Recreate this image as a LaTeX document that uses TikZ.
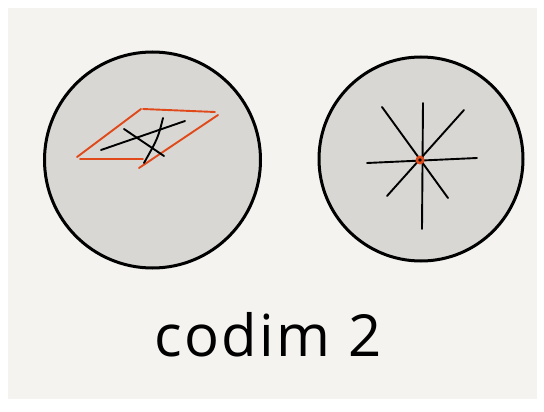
\documentclass[tikz,border=0pt]{standalone}
\usepackage{fontspec}
\setmainfont{Open Sans}
\definecolor{paper}{HTML}{F4F3F0}
\definecolor{disc}{HTML}{D8D7D4}
\definecolor{ora}{HTML}{E04A1A}
\begin{document}
\begin{tikzpicture}[x=1pt,y=-1pt,
  discstyle/.style={draw=black,line width=3pt,fill=disc},
  ink/.style={draw=black,line width=1.9pt,line cap=round},
  redink/.style={draw=ora,line width=1.9pt,line cap=round}]
\useasboundingbox (0,0) rectangle (544,412);
\fill[white] (0,0) rectangle (544,412);
\fill[paper] (8,8) rectangle (537,399);
% left disc
\node[discstyle,circle,minimum size=216pt,inner sep=0pt] (L) at (152.5,160) {};
\coordinate (p1) at (141,109);
\coordinate (p2) at (215,112);
\coordinate (p3) at (218,115);
\coordinate (p4) at (139,168);
\coordinate (p5) at (80,159);
\coordinate (p6) at (143,159);
\coordinate (p7) at (77,157);
\draw[redink] (p7) -- (p1);
\draw[redink] (143,109) -- (p2);
\draw[redink] (p3) -- (p4);
\draw[redink] (p5) -- (p6);
\draw[ink] (101,150) -- (185,121);
\draw[ink] (124,129) -- (164,156);
\draw[ink] (163,118) .. controls (158,138) .. (144,163);
% right disc
\node[discstyle,circle,minimum size=204pt,inner sep=0pt] (R) at (421,159) {};
\coordinate (c) at (420,160);
\draw[ink] (423,103) -- (422,229);
\draw[ink] (367,163) -- (477,158);
\draw[ink] (464,110) -- (387,196);
\draw[ink] (382,107) -- (448,198);
\fill[ora] (c) circle (4.5pt);
\fill[black] (c) circle (1.8pt);
% label
\node[font=\fontsize{58}{60}\selectfont\addfontfeatures{LetterSpace=4},anchor=base] (t) at (268,356) {codim 2};
\end{tikzpicture}
\end{document}
